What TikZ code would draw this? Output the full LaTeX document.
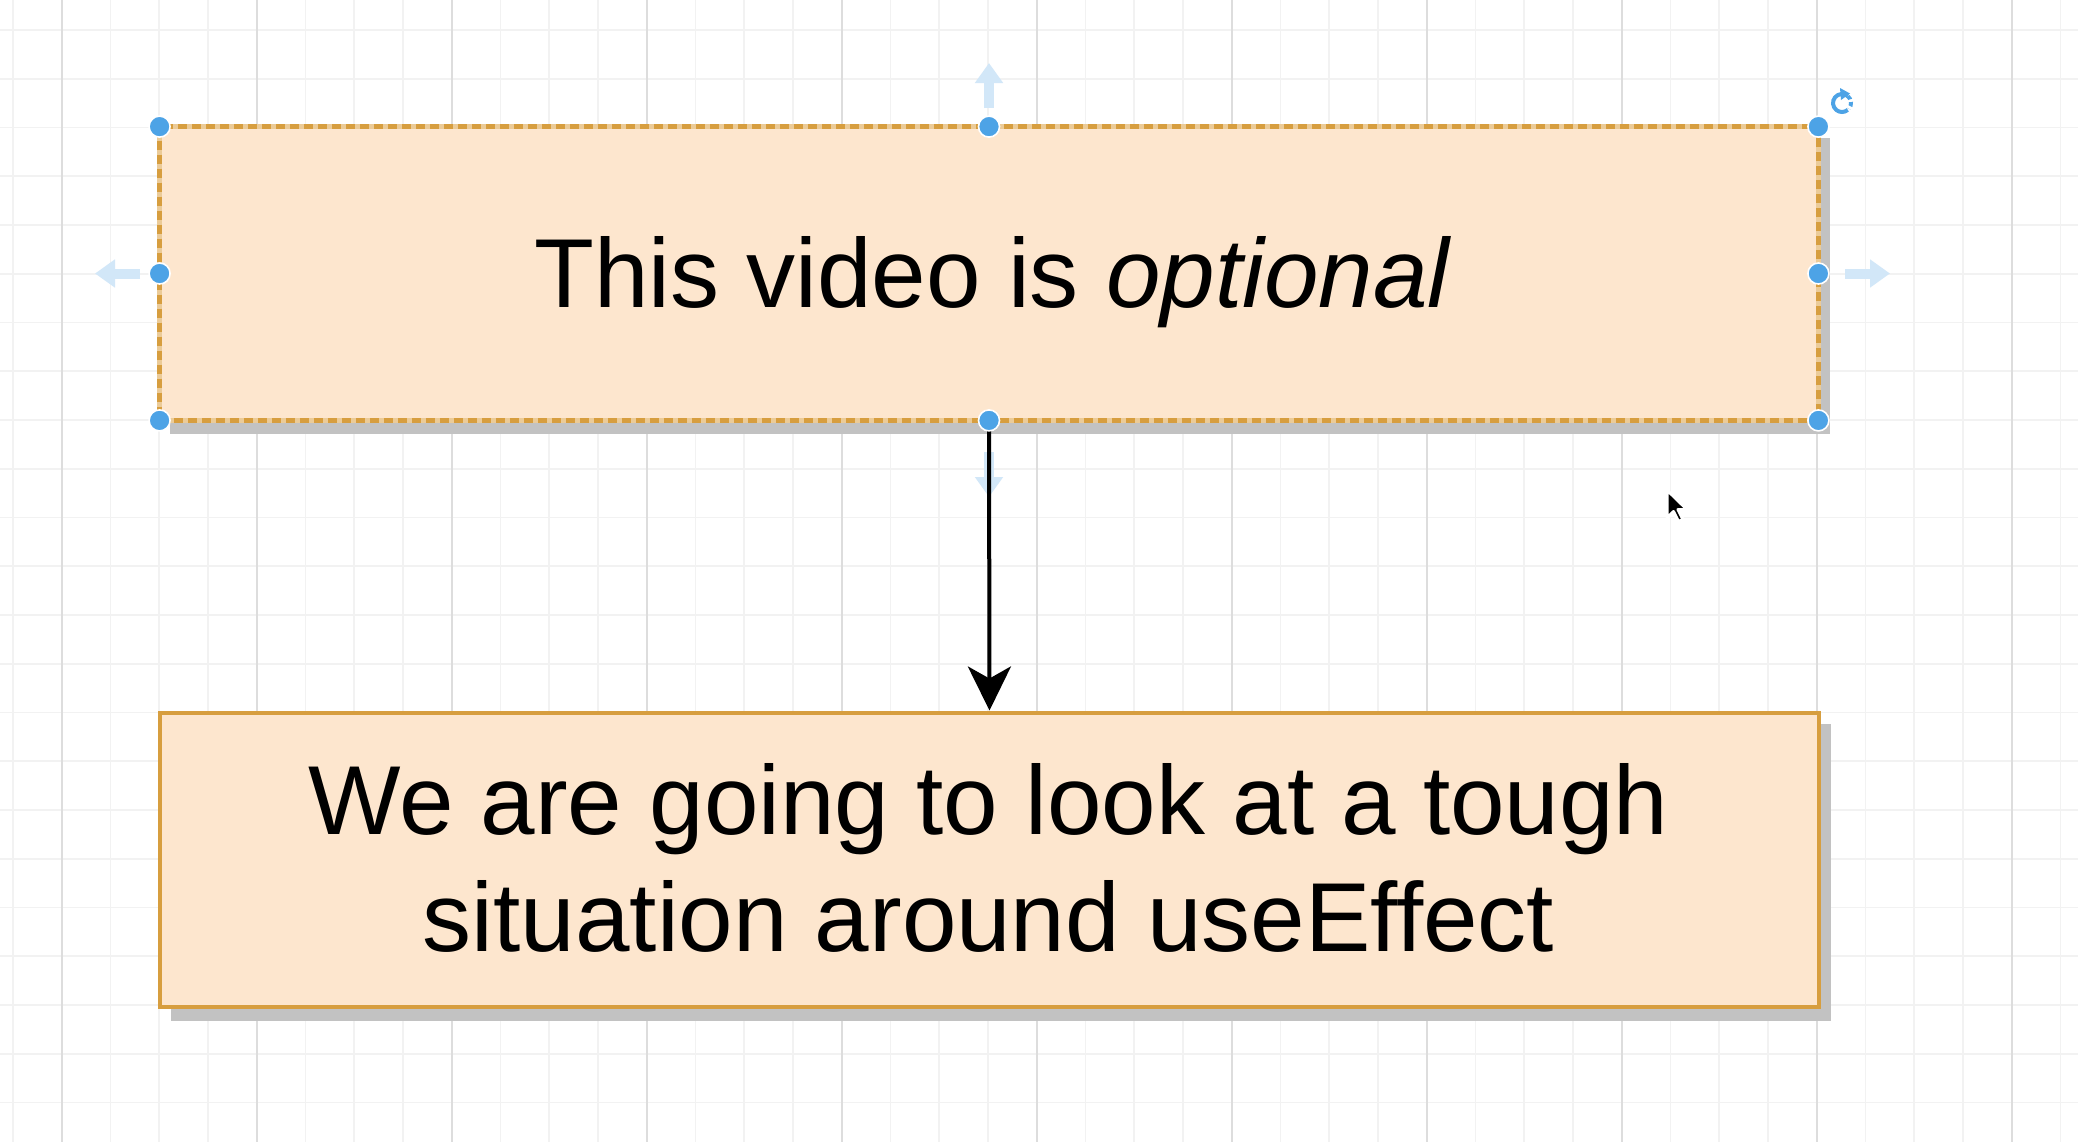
\documentclass[tikz,border=0pt]{standalone}
\usepackage{fontspec}
\setmainfont{Liberation Sans}
\usetikzlibrary{arrows.meta}
\definecolor{gridminor}{HTML}{F2F2F2}
\definecolor{gridmajor}{HTML}{DDDDDD}
\definecolor{boxfill}{HTML}{FDE6CE}
\definecolor{boxline}{HTML}{D79E3F}
\definecolor{boxlinelight}{HTML}{EBCB98}
\definecolor{shadowc}{HTML}{C2C2C2}
\definecolor{handle}{HTML}{4DA3E6}
\definecolor{hintblue}{HTML}{D2E7F8}
\tikzset{
  boxshape/.style={rectangle, inner sep=0pt, minimum width=829pt, minimum height=146.5pt, fill=boxfill},
  handledot/.style={circle, inner sep=0pt, minimum size=10.5pt, fill=handle, draw=white, line width=0.8pt},
  hintarrow/.style={draw=hintblue, line width=5pt, -{Triangle[width=13.5pt,length=10pt]}},
  bigtext/.style={inner sep=0pt, anchor=base, font=\fontsize{49}{58.5}\selectfont, text=black},
  connector/.style={draw=black, line width=2pt, -{Stealth[length=22pt,width=21.5pt,inset=6pt]}}
}
\begin{document}
\begin{tikzpicture}[x=0.5pt,y=-0.5pt]
\useasboundingbox (0,0) rectangle (2078,1142);
\fill[white] (0,0) rectangle (2078,1142);
% grid
\foreach \k in {0,...,42} {\draw[gridminor, line width=0.8pt] ({13+48.75*\k},0) -- ({13+48.75*\k},1142);}
\foreach \k in {0,...,22} {\draw[gridminor, line width=0.8pt] (0,{30+48.75*\k}) -- (2078,{30+48.75*\k});}
\foreach \k in {0,...,10} {\draw[gridmajor, line width=0.8pt] ({62+195*\k},0) -- ({62+195*\k},1142);}
% shadows
\fill[shadowc] (170,138) rectangle (1830,434);
\fill[shadowc] (171,724) rectangle (1831,1021);
% boxes
\node[boxshape] (box1) at (989,273.5) {};
\node[boxshape, minimum width=829.5pt, minimum height=147pt, draw=boxline, line width=2pt] (box2) at (989.5,859.5) {};
\draw[boxlinelight, line width=2.2pt] (box1.north west) rectangle (box1.south east);
\draw[boxline, line width=2.2pt, dash pattern=on 4.5pt off 2.5pt] (box1.north west) rectangle (box1.south east);
% texts
\node[bigtext] (t1) at (993,307) {This video is \textit{optional}};
\node[bigtext] (t2a) at (988.5,834) {We are going to look at a tough};
\node[bigtext] (t2b) at (988.5,951) {situation around useEffect};
% hint arrows
\coordinate (hu0) at (989,108); \coordinate (hu1) at (989,63);
\coordinate (hd0) at (989,452); \coordinate (hd1) at (989,497);
\coordinate (hl0) at (140,273.5); \coordinate (hl1) at (95,273.5);
\coordinate (hr0) at (1845,273.5); \coordinate (hr1) at (1890,273.5);
\draw[hintarrow] (hu0) -- (hu1);
\draw[hintarrow] (hd0) -- (hd1);
\draw[hintarrow] (hl0) -- (hl1);
\draw[hintarrow] (hr0) -- (hr1);
% connector
\draw[connector] (box1.south) -- (box2.north);
% handles
\foreach \a/\n in {north west/h1, north/h2, north east/h3, west/h4, east/h5, south west/h6, south/h7, south east/h8}
  {\node[handledot] (\n) at (box1.\a) {};}
% rotate icon
\coordinate (rot) at (1842,103);
\draw[handle, line width=2pt] (rot) ++(-50:9) arc (-50:-310:9);
\fill[handle] (1840,88) -- (1850,93.5) -- (1841,100) -- cycle;
\draw[handle, line width=2pt, dash pattern=on 2pt off 1.5pt] (rot) ++(-50:9) arc (-50:40:9);
% cursor
\coordinate (cur) at (1667,490);
\draw[white, line width=1.5pt, fill=black, line join=round]
  (cur) -- ++(0,28) -- ++(6.5,-6.5) -- ++(5,10) -- ++(4.5,-2) -- ++(-5,-10) -- ++(9,0) -- cycle;
\end{tikzpicture}
\end{document}
